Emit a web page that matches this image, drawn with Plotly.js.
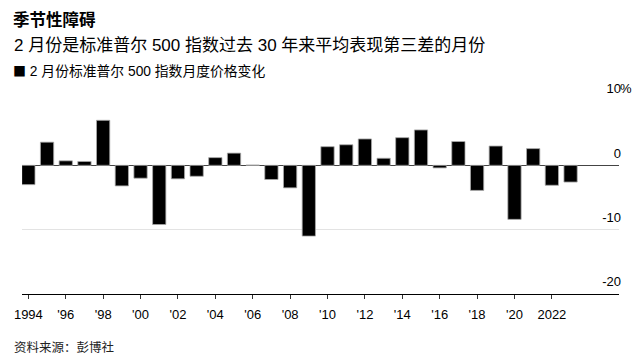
<!DOCTYPE html>
<html>
<head>
<meta charset="utf-8">
<script src="https://cdn.plot.ly/plotly-3.0.1.min.js"></script>
<style>
html,body{margin:0;padding:0;background:#fff;}
#chart{width:636px;height:357px;}
</style>
</head>
<body>
<div id="chart"></div>
<script>
// February S&P 500 monthly price change (%), 1994-2023
const years = [1994,1995,1996,1997,1998,1999,2000,2001,2002,2003,2004,2005,2006,2007,2008,
               2009,2010,2011,2012,2013,2014,2015,2016,2017,2018,2019,2020,2021,2022,2023];
const changes = [-3.0,3.6,0.7,0.6,7.0,-3.2,-2.0,-9.2,-2.1,-1.7,1.2,1.9,0.05,-2.2,-3.5,
                 -11.0,2.9,3.2,4.1,1.1,4.3,5.5,-0.4,3.7,-3.9,3.0,-8.4,2.6,-3.1,-2.6];
const xTickVals = [1994,1996,1998,2000,2002,2004,2006,2008,2010,2012,2014,2016,2018,2020,2022];
const xTickText = ["1994","'96","'98","'00","'02","'04","'06","'08","'10","'12","'14","'16","'18","'20","2022"];
const yTickVals = [-20,-10,0,10];
const yTickText = ["-20","-10","0","10"];

const FONT = "'Liberation Sans', Arial, 'Noto Sans CJK SC', sans-serif";

const trace = {
  type: "bar",
  x: years,
  y: changes,
  marker: {color: "#000000", line: {color: "#aaaaaa", width: 0.8}},
  hoverinfo: "x+y",
  showlegend: false
};

const layout = {
  width: 636,
  height: 357,
  margin: {l: 22, r: 17, t: 101, b: 63, pad: 0},
  paper_bgcolor: "#ffffff",
  plot_bgcolor: "#ffffff",
  font: {family: FONT, color: "#000000", size: 13},
  bargap: 0.29,
  title: {
    text: "<b>季节性障碍</b>",
    font: {family: "'Noto Sans CJK SC', sans-serif", size: 16.5, color: "#000"},
    x: 13/636, xref: "container", xanchor: "left",
    y: 1 - 20/357, yref: "container", yanchor: "middle"
  },
  xaxis: {
    range: [1993.66, 2025.59],
    tickmode: "array",
    tickvals: xTickVals,
    ticktext: xTickText,
    ticks: "outside",
    ticklen: 4,
    tickwidth: 1,
    tickcolor: "#333",
    ticklabelstandoff: 4,
    showgrid: false,
    zeroline: false,
    showline: true,
    linecolor: "#000",
    linewidth: 1,
    tickfont: {size: 13, color: "#000", family: FONT},
    fixedrange: true
  },
  yaxis: {
    range: [-20, 10],
    side: "right",
    tickmode: "array",
    tickvals: yTickVals,
    ticktext: yTickText,
    ticks: "",
    ticklen: 0,
    ticklabelposition: "inside top",
    ticklabeloverflow: "allow",
    ticklabelstandoff: -5,
    ticklabelshift: -3,
    showgrid: true,
    gridcolor: "#e3e3e3",
    gridwidth: 1,
    zeroline: true,
    zerolinecolor: "#444",
    zerolinewidth: 1,
    showline: false,
    tickfont: {size: 13, color: "#000", family: FONT},
    fixedrange: true
  },
  annotations: [
    {
      text: "2 月份是标准普尔 500 指数过去 30 年来平均表现第三差的月份",
      xref: "paper", yref: "paper",
      x: -22/597, y: 1 + (101-46)/193,
      xanchor: "left", yanchor: "middle", xshift: 12,
      showarrow: false,
      font: {family: FONT, size: 17, color: "#000"}
    },
    {
      text: "<span style=\"font-family:'Noto Sans CJK SC';font-size:13px\">■</span> 2 月份标准普尔 500 指数月度价格变化",
      xref: "paper", yref: "paper",
      x: -22/597, y: 1 + (101-71)/193,
      xanchor: "left", yanchor: "middle", xshift: 11,
      showarrow: false,
      font: {family: FONT, size: 13.8, color: "#000"}
    },
    {
      text: "%",
      xref: "paper", yref: "y",
      x: 1, y: 10,
      xanchor: "left", yanchor: "middle", yshift: 12.4, xshift: -1,
      showarrow: false,
      font: {family: FONT, size: 13, color: "#000"}
    },
    {
      text: "资料来源：彭博社",
      xref: "paper", yref: "paper",
      x: -22/597, y: -(347-294)/193,
      xanchor: "left", yanchor: "middle", xshift: 12,
      showarrow: false,
      font: {family: FONT, size: 12.5, color: "#222"}
    }
  ]
};

Plotly.newPlot("chart", [trace], layout, {displayModeBar: false, staticPlot: true});
</script>
</body>
</html>
